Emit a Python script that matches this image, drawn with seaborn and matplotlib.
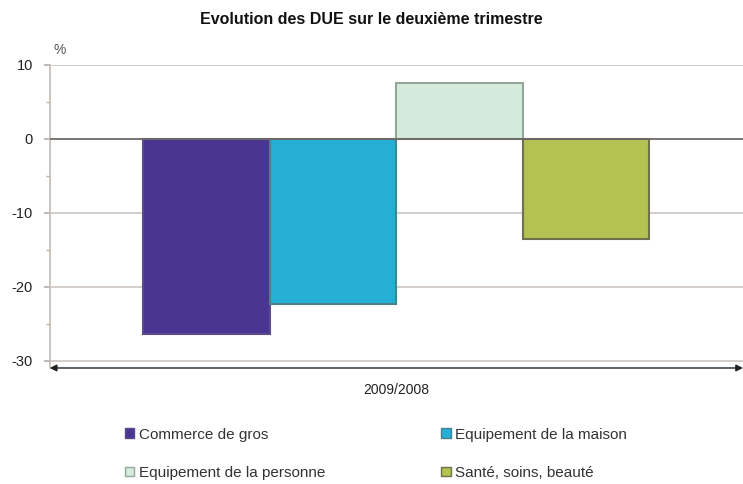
import pandas as pd
import matplotlib.pyplot as plt
import seaborn as sns
from matplotlib.patches import Patch
from matplotlib.ticker import MultipleLocator

# Données
periode = ["2009/2008"]
secteurs = ["Commerce de gros", "Equipement de la maison",
            "Equipement de la personne", "Santé, soins, beauté"]
evolution = [-26.4, -22.3, 7.6, -13.6]
couleurs = ["#4a3592", "#26afd6", "#d4ebdc", "#b3c252"]
bords = ["#5a4a8a", "#4f7f8a", "#93a898", "#6f7050"]

df = pd.DataFrame({"periode": periode * len(secteurs),
                   "secteur": secteurs,
                   "evolution": evolution})

sns.set_theme(style="white")
plt.rcParams['font.family'] = ['Liberation Sans', 'DejaVu Sans']
plt.rcParams['axes.unicode_minus'] = False

fig = plt.figure(figsize=(7.43, 4.84), dpi=100)
ax = fig.add_axes([0.067, 0.2397, 0.933, 0.6263])

sns.barplot(data=df, x="periode", y="evolution", hue="secteur",
            hue_order=secteurs, palette=couleurs, width=0.73,
            saturation=1, legend=False, ax=ax)

for patch, b in zip(ax.patches, bords):
    patch.set_edgecolor(b)
    patch.set_linewidth(1.5)

ax.set_xlim(-0.5, 0.5)
ax.set_ylim(-31, 10)
ax.set_yticks([-30, -20, -10, 0, 10])
ax.yaxis.set_minor_locator(MultipleLocator(5))
ax.tick_params(axis='y', which='both', left=True, direction='out',
               color="#b8b0ac", labelsize=10.5, labelcolor="#222222", pad=8)
ax.tick_params(axis='y', which='major', length=4)
ax.tick_params(axis='y', which='minor', length=3)
ax.tick_params(axis='x', length=0, labelsize=10, labelcolor="#222222", pad=11)

for v in [-30, -20, -10, 10]:
    ax.axhline(v, color="#cdc6c2", lw=1.2, zorder=0)
ax.axhline(0, color="#6e6866", lw=1.3, zorder=3)

for s in ["top", "right", "bottom"]:
    ax.spines[s].set_visible(False)
ax.spines["left"].set_color("#c4bcb8")
ax.spines["left"].set_linewidth(1.2)

# axe horizontal avec flèches
ax.annotate("", xy=(0, 0), xycoords=("axes fraction", "axes fraction"),
            xytext=(1, 0), textcoords="axes fraction",
            arrowprops=dict(arrowstyle="<|-|>", color="#222222", lw=1.0,
                            mutation_scale=10, shrinkA=0, shrinkB=0))

ax.set_xlabel("")
ax.set_ylabel("")
ax.text(0.005, 1.035, "%", transform=ax.transAxes, fontsize=10,
        color="#555555")

fig.suptitle("Evolution des DUE sur le deuxième trimestre", y=0.975,
             fontsize=11.5, fontweight="bold", color="#111111")

handles = [Patch(facecolor=c, edgecolor=b) for c, b in zip(couleurs, bords)]
order = [0, 2, 1, 3]
fig.legend([handles[i] for i in order], [secteurs[i] for i in order],
           ncol=2, loc="upper left", bbox_to_anchor=(0.15, 0.145),
           frameon=False, fontsize=11, handlelength=0.6, handleheight=0.6,
           handletextpad=0.3, columnspacing=7.6, labelspacing=1.6,
           labelcolor="#333333")

fig.savefig("out.png", dpi=100)
